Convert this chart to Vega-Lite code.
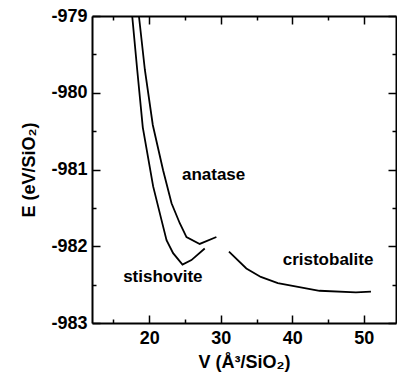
{
  "$schema": "https://vega.github.io/schema/vega-lite/v6.json",
  "width": 304,
  "height": 307,
  "autosize": {"type": "none"},
  "padding": {"left": 92, "top": 16, "right": 1, "bottom": 57},
  "background": "white",
  "config": {
    "view": {"stroke": null},
    "axis": {
      "labelFont": "Liberation Sans", "titleFont": "Liberation Sans",
      "labelFontWeight": "bold", "titleFontWeight": "bold",
      "labelFontSize": 18, "titleFontSize": 18,
      "labelColor": "black", "titleColor": "black",
      "domainColor": "black", "domainWidth": 2,
      "tickColor": "black", "tickWidth": 1.5, "grid": false
    }
  },
  "data": {"values": [
      {"kind": "curve", "series": "stishovite", "V": 17.62, "E": -979.0},
      {"kind": "curve", "series": "stishovite", "V": 18.32, "E": -979.70},
      {"kind": "curve", "series": "stishovite", "V": 19.1, "E": -980.45},
      {"kind": "curve", "series": "stishovite", "V": 20.55, "E": -981.22},
      {"kind": "curve", "series": "stishovite", "V": 21.72, "E": -981.66},
      {"kind": "curve", "series": "stishovite", "V": 22.42, "E": -981.92},
      {"kind": "curve", "series": "stishovite", "V": 23.34, "E": -982.09},
      {"kind": "curve", "series": "stishovite", "V": 24.65, "E": -982.24},
      {"kind": "curve", "series": "stishovite", "V": 25.9, "E": -982.18},
      {"kind": "curve", "series": "stishovite", "V": 27.76, "E": -982.03},
      {"kind": "curve", "series": "anatase", "V": 18.56, "E": -979.0},
      {"kind": "curve", "series": "anatase", "V": 19.39, "E": -979.70},
      {"kind": "curve", "series": "anatase", "V": 20.5, "E": -980.42},
      {"kind": "curve", "series": "anatase", "V": 21.94, "E": -981.01},
      {"kind": "curve", "series": "anatase", "V": 23.12, "E": -981.44},
      {"kind": "curve", "series": "anatase", "V": 24.27, "E": -981.70},
      {"kind": "curve", "series": "anatase", "V": 25.21, "E": -981.88},
      {"kind": "curve", "series": "anatase", "V": 27.06, "E": -981.97},
      {"kind": "curve", "series": "anatase", "V": 29.39, "E": -981.88},
      {"kind": "curve", "series": "cristobalite", "V": 31.15, "E": -982.07},
      {"kind": "curve", "series": "cristobalite", "V": 33.58, "E": -982.29},
      {"kind": "curve", "series": "cristobalite", "V": 35.6, "E": -982.40},
      {"kind": "curve", "series": "cristobalite", "V": 37.98, "E": -982.48},
      {"kind": "curve", "series": "cristobalite", "V": 43.8, "E": -982.58},
      {"kind": "curve", "series": "cristobalite", "V": 48.9, "E": -982.60},
      {"kind": "curve", "series": "cristobalite", "V": 51.0, "E": -982.59},
      {"kind": "label", "series": "anatase", "V": 29.0, "E": -981.07},
      {"kind": "label", "series": "stishovite", "V": 21.9, "E": -982.40},
      {"kind": "label", "series": "cristobalite", "V": 45.0, "E": -982.18}
  ]},
  "layer": [
    {
      "transform": [{"filter": "datum.kind == 'curve'"}],
      "mark": {"type": "line", "color": "black", "strokeWidth": 1.8},
      "encoding": {
        "x": {"field": "V", "type": "quantitative", "scale": {"domain": [12, 54.5], "nice": false, "zero": false},
          "axis": {"orient": "bottom", "values": [20, 30, 40, 50], "ticks": false, "labelPadding": 6, "title": "V (Å³/SiO₂)", "titlePadding": 6}},
        "y": {"field": "E", "type": "quantitative", "scale": {"domain": [-983, -979], "nice": false, "zero": false},
          "axis": {"orient": "left", "values": [-983, -982, -981, -980, -979], "ticks": false, "labelPadding": 5, "labelExpr": "'' + datum.value", "title": "E (eV/SiO₂)", "titlePadding": 12}},
        "detail": {"field": "series"}
      }
    },
    {
      "transform": [{"filter": "datum.kind == 'label'"}],
      "mark": {"type": "text", "font": "Liberation Sans", "fontWeight": "bold", "fontSize": 17, "color": "black", "align": "center", "baseline": "middle"},
      "encoding": {
        "x": {"field": "V", "type": "quantitative", "scale": {"domain": [12, 54.5], "nice": false, "zero": false},
          "axis": {"orient": "bottom", "values": [20, 30, 40, 50], "tickSize": -8, "labels": false, "domain": false, "title": null}},
        "y": {"field": "E", "type": "quantitative", "scale": {"domain": [-983, -979], "nice": false, "zero": false},
          "axis": {"orient": "left", "values": [-983, -982, -981, -980, -979], "tickSize": -8, "labels": false, "domain": false, "title": null}},
        "text": {"field": "series"}
      }
    },
    {
      "transform": [{"filter": "datum.kind == 'label'"}],
      "mark": {"type": "point", "opacity": 0},
      "encoding": {
        "x": {"field": "V", "type": "quantitative", "scale": {"domain": [12, 54.5], "nice": false, "zero": false},
          "axis": {"orient": "top", "values": [20, 30, 40, 50], "tickSize": -8, "labels": false, "title": null}},
        "y": {"field": "E", "type": "quantitative", "scale": {"domain": [-983, -979], "nice": false, "zero": false},
          "axis": {"orient": "right", "values": [-983, -982, -981, -980, -979], "tickSize": -8, "labels": false, "title": null}}
      }
    },
    {
      "transform": [{"filter": "datum.kind == 'label'"}],
      "mark": {"type": "point", "opacity": 0},
      "encoding": {
        "x": {"field": "V", "type": "quantitative", "scale": {"domain": [12, 54.5], "nice": false, "zero": false},
          "axis": {"orient": "bottom", "values": [15, 25, 35, 45], "tickSize": -4, "labels": false, "domain": false, "title": null}},
        "y": {"field": "E", "type": "quantitative", "scale": {"domain": [-983, -979], "nice": false, "zero": false},
          "axis": {"orient": "left", "values": [-982.5, -981.5, -980.5, -979.5], "tickSize": -4, "labels": false, "domain": false, "title": null}}
      }
    },
    {
      "transform": [{"filter": "datum.kind == 'label'"}],
      "mark": {"type": "point", "opacity": 0},
      "encoding": {
        "x": {"field": "V", "type": "quantitative", "scale": {"domain": [12, 54.5], "nice": false, "zero": false},
          "axis": {"orient": "top", "values": [15, 25, 35, 45], "tickSize": -4, "labels": false, "domain": false, "title": null}},
        "y": {"field": "E", "type": "quantitative", "scale": {"domain": [-983, -979], "nice": false, "zero": false},
          "axis": {"orient": "right", "values": [-982.5, -981.5, -980.5, -979.5], "tickSize": -4, "labels": false, "domain": false, "title": null}}
      }
    }
  ],
  "resolve": {"axis": {"x": "independent", "y": "independent"}}
}
